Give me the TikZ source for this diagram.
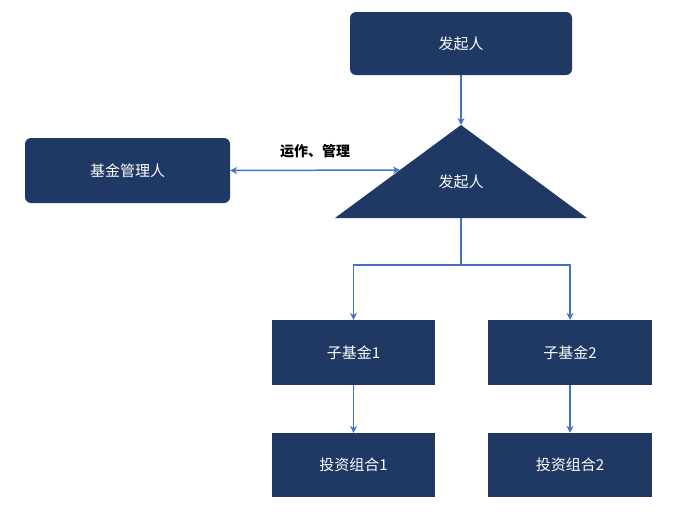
\documentclass[tikz,border=0pt]{standalone}
\usepackage{fontspec}
\setmainfont{Noto Sans CJK SC}
\usetikzlibrary{arrows.meta}
\definecolor{navy}{HTML}{1F3864}
\definecolor{ablue}{HTML}{4472C4}
\begin{document}
\begin{tikzpicture}[x=1pt,y=-1pt,
  box/.style={fill=navy,text=white,font=\fontsize{15}{18}\selectfont,inner sep=0pt},
  conn/.style={draw=ablue,line width=1.5pt,-{Stealth[length=7pt,width=7pt]}}]
\useasboundingbox (0,0) rectangle (682,517);
\node[box,rounded corners=6pt,minimum width=222pt,minimum height=63pt] (top) at (461,43.5) {发起人};
\node[box,rounded corners=6pt,minimum width=205pt,minimum height=65pt] (mgr) at (127.5,170.5) {基金管理人};
\fill[navy] (461,125) coordinate (apex) -- (587,218) -- (335,218) -- cycle;
\node[text=white,font=\fontsize{15}{18}\selectfont] (tri) at (461,182) {发起人};
\coordinate (base) at (461,218);
\coordinate (tleft) at (400,170);
\node[box,minimum width=163pt,minimum height=65pt] (f1) at (353.5,352.5) {子基金1};
\node[box,minimum width=164pt,minimum height=65pt] (f2) at (570,352.5) {子基金2};
\node[box,minimum width=163pt,minimum height=64pt] (p1) at (353.5,465) {投资组合1};
\node[box,minimum width=164pt,minimum height=64pt] (p2) at (570,465) {投资组合2};
\draw[conn] (top.south) -- (apex);
\draw[conn,{Stealth[length=7pt,width=7pt]}-{Stealth[length=7pt,width=7pt]}] (mgr.east) -- (tleft);
\node[font=\bfseries\fontsize{14}{16}\selectfont] (lbl) at (315,151) {运作、管理};
\coordinate (split) at (461,265);
\draw[draw=ablue,line width=1.5pt] (base) -- (split);
\draw[conn] (split) -| (f1.north);
\draw[conn] (split) -| (f2.north);
\draw[conn] (f1.south) -- (p1.north);
\draw[conn] (f2.south) -- (p2.north);
\end{tikzpicture}
\end{document}
